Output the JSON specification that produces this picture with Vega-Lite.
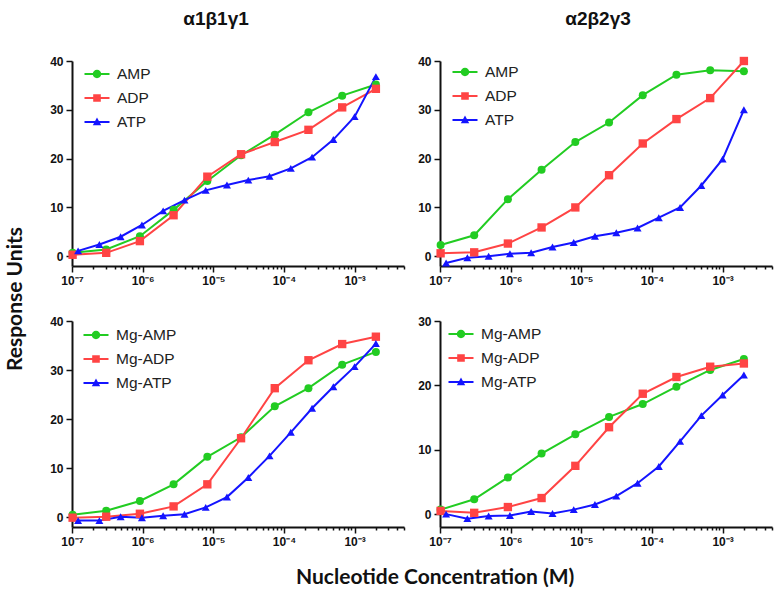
{
  "$schema": "https://vega.github.io/schema/vega-lite/v6.json",
  "background": "white",
  "padding": {"left": 4, "top": 10, "right": 4, "bottom": 4},
  "config": {
    "view": {"stroke": null},
    "axis": {"grid": false, "domainColor": "#111", "domainWidth": 2, "tickColor": "#111", "tickWidth": 1.5, "labelFont": "Liberation Sans", "labelFontWeight": "bold", "labelColor": "#111"},
    "legend": {"orient": "none", "title": null, "padding": 0, "symbolSize": 400, "rowPadding": 4, "labelOffset": 9, "labelFont": "Liberation Sans", "labelFontSize": 15.5, "labelColor": "#222", "labelFontWeight": "normal"}
  },
  "datasets": {
    "d": [
      {"p":"TL","s":"AMP","c":1.02e-7,"v":0.7},{"p":"TL","s":"AMP","c":3.05e-7,"v":1.4},{"p":"TL","s":"AMP","c":9.14e-7,"v":4.1},{"p":"TL","s":"AMP","c":2.74e-6,"v":9.5},{"p":"TL","s":"AMP","c":8.23e-6,"v":15.4},{"p":"TL","s":"AMP","c":2.47e-5,"v":20.7},{"p":"TL","s":"AMP","c":7.41e-5,"v":24.9},{"p":"TL","s":"AMP","c":2.22e-4,"v":29.5},{"p":"TL","s":"AMP","c":6.67e-4,"v":32.9},{"p":"TL","s":"AMP","c":2e-3,"v":35.2},
      {"p":"TL","s":"ADP","c":1.02e-7,"v":0.3},{"p":"TL","s":"ADP","c":3.05e-7,"v":0.7},{"p":"TL","s":"ADP","c":9.14e-7,"v":3.1},{"p":"TL","s":"ADP","c":2.74e-6,"v":8.4},{"p":"TL","s":"ADP","c":8.23e-6,"v":16.3},{"p":"TL","s":"ADP","c":2.47e-5,"v":20.9},{"p":"TL","s":"ADP","c":7.41e-5,"v":23.4},{"p":"TL","s":"ADP","c":2.22e-4,"v":25.9},{"p":"TL","s":"ADP","c":6.67e-4,"v":30.5},{"p":"TL","s":"ADP","c":2e-3,"v":34.3},
      {"p":"TL","s":"ATP","c":1.22e-7,"v":1.1},{"p":"TL","s":"ATP","c":2.44e-7,"v":2.4},{"p":"TL","s":"ATP","c":4.88e-7,"v":4.0},{"p":"TL","s":"ATP","c":9.77e-7,"v":6.4},{"p":"TL","s":"ATP","c":1.95e-6,"v":9.3},{"p":"TL","s":"ATP","c":3.91e-6,"v":11.5},{"p":"TL","s":"ATP","c":7.81e-6,"v":13.5},{"p":"TL","s":"ATP","c":1.56e-5,"v":14.6},{"p":"TL","s":"ATP","c":3.13e-5,"v":15.6},{"p":"TL","s":"ATP","c":6.25e-5,"v":16.4},{"p":"TL","s":"ATP","c":1.25e-4,"v":18.0},{"p":"TL","s":"ATP","c":2.5e-4,"v":20.3},{"p":"TL","s":"ATP","c":5e-4,"v":23.9},{"p":"TL","s":"ATP","c":1e-3,"v":28.6},{"p":"TL","s":"ATP","c":2e-3,"v":36.8},
      {"p":"TR","s":"AMP","c":1.02e-7,"v":2.3},{"p":"TR","s":"AMP","c":3.05e-7,"v":4.3},{"p":"TR","s":"AMP","c":9.14e-7,"v":11.7},{"p":"TR","s":"AMP","c":2.74e-6,"v":17.7},{"p":"TR","s":"AMP","c":8.23e-6,"v":23.4},{"p":"TR","s":"AMP","c":2.47e-5,"v":27.4},{"p":"TR","s":"AMP","c":7.41e-5,"v":33.0},{"p":"TR","s":"AMP","c":2.22e-4,"v":37.2},{"p":"TR","s":"AMP","c":6.67e-4,"v":38.1},{"p":"TR","s":"AMP","c":2e-3,"v":37.9},
      {"p":"TR","s":"ADP","c":1.02e-7,"v":0.6},{"p":"TR","s":"ADP","c":3.05e-7,"v":0.8},{"p":"TR","s":"ADP","c":9.14e-7,"v":2.6},{"p":"TR","s":"ADP","c":2.74e-6,"v":5.9},{"p":"TR","s":"ADP","c":8.23e-6,"v":10.0},{"p":"TR","s":"ADP","c":2.47e-5,"v":16.6},{"p":"TR","s":"ADP","c":7.41e-5,"v":23.1},{"p":"TR","s":"ADP","c":2.22e-4,"v":28.1},{"p":"TR","s":"ADP","c":6.67e-4,"v":32.4},{"p":"TR","s":"ADP","c":2e-3,"v":40.0},
      {"p":"TR","s":"ATP","c":1.22e-7,"v":-1.4},{"p":"TR","s":"ATP","c":2.44e-7,"v":-0.3},{"p":"TR","s":"ATP","c":4.88e-7,"v":0.0},{"p":"TR","s":"ATP","c":9.77e-7,"v":0.5},{"p":"TR","s":"ATP","c":1.95e-6,"v":0.7},{"p":"TR","s":"ATP","c":3.91e-6,"v":1.9},{"p":"TR","s":"ATP","c":7.81e-6,"v":2.8},{"p":"TR","s":"ATP","c":1.56e-5,"v":4.1},{"p":"TR","s":"ATP","c":3.13e-5,"v":4.8},{"p":"TR","s":"ATP","c":6.25e-5,"v":5.8},{"p":"TR","s":"ATP","c":1.25e-4,"v":7.9},{"p":"TR","s":"ATP","c":2.5e-4,"v":10.0},{"p":"TR","s":"ATP","c":5e-4,"v":14.5},{"p":"TR","s":"ATP","c":1e-3,"v":19.9},{"p":"TR","s":"ATP","c":2e-3,"v":30.0},
      {"p":"BL","s":"Mg-AMP","c":1.02e-7,"v":0.5},{"p":"BL","s":"Mg-AMP","c":3.05e-7,"v":1.3},{"p":"BL","s":"Mg-AMP","c":9.14e-7,"v":3.3},{"p":"BL","s":"Mg-AMP","c":2.74e-6,"v":6.7},{"p":"BL","s":"Mg-AMP","c":8.23e-6,"v":12.3},{"p":"BL","s":"Mg-AMP","c":2.47e-5,"v":16.3},{"p":"BL","s":"Mg-AMP","c":7.41e-5,"v":22.6},{"p":"BL","s":"Mg-AMP","c":2.22e-4,"v":26.3},{"p":"BL","s":"Mg-AMP","c":6.67e-4,"v":31.1},{"p":"BL","s":"Mg-AMP","c":2e-3,"v":33.7},
      {"p":"BL","s":"Mg-ADP","c":1.02e-7,"v":-0.1},{"p":"BL","s":"Mg-ADP","c":3.05e-7,"v":0.1},{"p":"BL","s":"Mg-ADP","c":9.14e-7,"v":0.7},{"p":"BL","s":"Mg-ADP","c":2.74e-6,"v":2.2},{"p":"BL","s":"Mg-ADP","c":8.23e-6,"v":6.7},{"p":"BL","s":"Mg-ADP","c":2.47e-5,"v":16.1},{"p":"BL","s":"Mg-ADP","c":7.41e-5,"v":26.3},{"p":"BL","s":"Mg-ADP","c":2.22e-4,"v":32.0},{"p":"BL","s":"Mg-ADP","c":6.67e-4,"v":35.3},{"p":"BL","s":"Mg-ADP","c":2e-3,"v":36.8},
      {"p":"BL","s":"Mg-ATP","c":1.22e-7,"v":-0.7},{"p":"BL","s":"Mg-ATP","c":2.44e-7,"v":-0.7},{"p":"BL","s":"Mg-ATP","c":4.88e-7,"v":0.1},{"p":"BL","s":"Mg-ATP","c":9.77e-7,"v":-0.1},{"p":"BL","s":"Mg-ATP","c":1.95e-6,"v":0.3},{"p":"BL","s":"Mg-ATP","c":3.91e-6,"v":0.6},{"p":"BL","s":"Mg-ATP","c":7.81e-6,"v":2.0},{"p":"BL","s":"Mg-ATP","c":1.56e-5,"v":4.1},{"p":"BL","s":"Mg-ATP","c":3.13e-5,"v":8.1},{"p":"BL","s":"Mg-ATP","c":6.25e-5,"v":12.5},{"p":"BL","s":"Mg-ATP","c":1.25e-4,"v":17.3},{"p":"BL","s":"Mg-ATP","c":2.5e-4,"v":22.2},{"p":"BL","s":"Mg-ATP","c":5e-4,"v":26.6},{"p":"BL","s":"Mg-ATP","c":1e-3,"v":30.7},{"p":"BL","s":"Mg-ATP","c":2e-3,"v":35.4},
      {"p":"BR","s":"Mg-AMP","c":1.02e-7,"v":0.7},{"p":"BR","s":"Mg-AMP","c":3.05e-7,"v":2.3},{"p":"BR","s":"Mg-AMP","c":9.14e-7,"v":5.7},{"p":"BR","s":"Mg-AMP","c":2.74e-6,"v":9.4},{"p":"BR","s":"Mg-AMP","c":8.23e-6,"v":12.4},{"p":"BR","s":"Mg-AMP","c":2.47e-5,"v":15.1},{"p":"BR","s":"Mg-AMP","c":7.41e-5,"v":17.1},{"p":"BR","s":"Mg-AMP","c":2.22e-4,"v":19.8},{"p":"BR","s":"Mg-AMP","c":6.67e-4,"v":22.4},{"p":"BR","s":"Mg-AMP","c":2e-3,"v":24.1},
      {"p":"BR","s":"Mg-ADP","c":1.02e-7,"v":0.5},{"p":"BR","s":"Mg-ADP","c":3.05e-7,"v":0.2},{"p":"BR","s":"Mg-ADP","c":9.14e-7,"v":1.1},{"p":"BR","s":"Mg-ADP","c":2.74e-6,"v":2.5},{"p":"BR","s":"Mg-ADP","c":8.23e-6,"v":7.5},{"p":"BR","s":"Mg-ADP","c":2.47e-5,"v":13.5},{"p":"BR","s":"Mg-ADP","c":7.41e-5,"v":18.7},{"p":"BR","s":"Mg-ADP","c":2.22e-4,"v":21.3},{"p":"BR","s":"Mg-ADP","c":6.67e-4,"v":22.9},{"p":"BR","s":"Mg-ADP","c":2e-3,"v":23.4},
      {"p":"BR","s":"Mg-ATP","c":1.22e-7,"v":0.0},{"p":"BR","s":"Mg-ATP","c":2.44e-7,"v":-0.7},{"p":"BR","s":"Mg-ATP","c":4.88e-7,"v":-0.3},{"p":"BR","s":"Mg-ATP","c":9.77e-7,"v":-0.2},{"p":"BR","s":"Mg-ATP","c":1.95e-6,"v":0.4},{"p":"BR","s":"Mg-ATP","c":3.91e-6,"v":0.1},{"p":"BR","s":"Mg-ATP","c":7.81e-6,"v":0.7},{"p":"BR","s":"Mg-ATP","c":1.56e-5,"v":1.5},{"p":"BR","s":"Mg-ATP","c":3.13e-5,"v":2.8},{"p":"BR","s":"Mg-ATP","c":6.25e-5,"v":4.8},{"p":"BR","s":"Mg-ATP","c":1.25e-4,"v":7.4},{"p":"BR","s":"Mg-ATP","c":2.5e-4,"v":11.3},{"p":"BR","s":"Mg-ATP","c":5e-4,"v":15.3},{"p":"BR","s":"Mg-ATP","c":1e-3,"v":18.5},{"p":"BR","s":"Mg-ATP","c":2e-3,"v":21.6}
    ]
  },
  "title": {"text": "Response Units", "orient": "left", "anchor": "middle", "font": "Lato", "fontSize": 21, "fontWeight": "bold", "color": "#111", "offset": 24},
  "vconcat": [
    {
      "title": {"text": "Nucleotide Concentration (M)", "orient": "bottom", "anchor": "middle", "font": "Lato", "fontSize": 21, "fontWeight": "bold", "color": "#111", "offset": 20, "dx": 24},
      "resolve": {"scale": {"color": "independent", "fill": "independent", "shape": "independent", "x": "independent", "y": "independent"}, "legend": {"color": "independent", "fill": "independent", "shape": "independent"}},
      "spacing": 29,
      "vconcat": [
        {
          "resolve": {"scale": {"color": "independent", "fill": "independent", "shape": "independent", "x": "independent", "y": "independent"}, "legend": {"color": "independent", "fill": "independent", "shape": "independent"}},
          "spacing": 12,
          "hconcat": [
            {
              "width": 332, "height": 205,
              "title": {"text": "α1β1γ1", "font": "Liberation Sans", "fontSize": 19, "fontWeight": "bold", "color": "#111", "offset": 26, "dx": -22},
              "data": {"name": "d"},
              "transform": [{"filter": "datum.p === 'TL'"}],
              "resolve": {"axis": {"x": "independent"}},
              "layer": [
                {"mark": {"type": "line", "strokeWidth": 2},
                 "encoding": {
                   "x": {"field": "c", "type": "quantitative", "scale": {"type": "log", "domain": [1e-7, 5e-3], "nice": false}, "axis": {"orient": "bottom", "title": null, "values": [1e-7, 1e-6, 1e-5, 1e-4, 1e-3], "tickSize": 6, "labelFontSize": 12, "labelPadding": 3, "labelFlush": false, "labelExpr": "datum.value < 3e-7 ? '10⁻⁷' : datum.value < 3e-6 ? '10⁻⁶' : datum.value < 3e-5 ? '10⁻⁵' : datum.value < 3e-4 ? '10⁻⁴' : '10⁻³'"}},
                   "y": {"field": "v", "type": "quantitative", "scale": {"domain": [-2, 40], "nice": false, "zero": false}, "axis": {"title": null, "values": [0, 10, 20, 30, 40], "tickSize": 6, "labelFontSize": 12, "labelPadding": 3}},
                   "color": {"field": "s", "type": "nominal", "scale": {"range": ["#ff4444", "#22cc22", "#1414ff"]}, "legend": null}}},
                {"mark": {"type": "point", "shape": "circle", "filled": true, "opacity": 1, "size": 64},
                 "transform": [{"filter": "datum.s === 'AMP'"}],
                 "encoding": {
                   "x": {"field": "c", "type": "quantitative", "axis": {"orient": "bottom", "title": null, "labels": false, "domain": false, "tickSize": 3, "values": [2e-7,3e-7,4e-7,5e-7,6e-7,7e-7,8e-7,9e-7,2e-6,3e-6,4e-6,5e-6,6e-6,7e-6,8e-6,9e-6,2e-5,3e-5,4e-5,5e-5,6e-5,7e-5,8e-5,9e-5,2e-4,3e-4,4e-4,5e-4,6e-4,7e-4,8e-4,9e-4,2e-3,3e-3,4e-3,5e-3]}},
                   "y": {"field": "v", "type": "quantitative"},
                   "color": {"field": "s", "type": "nominal", "legend": null}}},
                {"mark": {"type": "point", "shape": "square", "filled": true, "opacity": 1, "size": 70},
                 "transform": [{"filter": "datum.s === 'ADP'"}],
                 "encoding": {
                   "x": {"field": "c", "type": "quantitative", "axis": null},
                   "y": {"field": "v", "type": "quantitative"},
                   "color": {"field": "s", "type": "nominal", "legend": null}}},
                {"mark": {"type": "point", "shape": "triangle-up", "filled": true, "opacity": 1, "size": 64},
                 "transform": [{"filter": "datum.s === 'ATP'"}],
                 "encoding": {
                   "x": {"field": "c", "type": "quantitative", "axis": null},
                   "y": {"field": "v", "type": "quantitative"},
                   "color": {"field": "s", "type": "nominal", "legend": null}}},
                {"mark": {"type": "point", "filled": true, "opacity": 1},
                 "transform": [{"filter": "false"}],
                 "encoding": {
                   "x": {"field": "c", "type": "quantitative", "axis": null},
                   "y": {"field": "v", "type": "quantitative"},
                   "fill": {"field": "s", "type": "nominal", "scale": {"domain": ["AMP", "ADP", "ATP"], "range": ["#22cc22", "#ff4444", "#1414ff"]}, "legend": {"legendX": 14, "legendY": 2}},
                   "shape": {"field": "s", "type": "nominal", "scale": {"domain": ["AMP", "ADP", "ATP"], "range": ["M-1.25,-0.1H1.25V0.1H-1.25ZM-0.42,0A0.42,0.42 0 1,1 0.42,0A0.42,0.42 0 1,1 -0.42,0Z", "M-1.25,-0.1H1.25V0.1H-1.25ZM-0.38,-0.38H0.38V0.38H-0.38Z", "M-1.25,-0.1H1.25V0.1H-1.25ZM0,-0.45L0.42,0.32L-0.42,0.32Z"]}}}}
              ]
            },
            {
              "width": 332, "height": 205,
              "title": {"text": "α2β2γ3", "font": "Liberation Sans", "fontSize": 19, "fontWeight": "bold", "color": "#111", "offset": 26, "dx": -8},
              "data": {"name": "d"},
              "transform": [{"filter": "datum.p === 'TR'"}],
              "resolve": {"axis": {"x": "independent"}},
              "layer": [
                {"mark": {"type": "line", "strokeWidth": 2},
                 "encoding": {
                   "x": {"field": "c", "type": "quantitative", "scale": {"type": "log", "domain": [1e-7, 5e-3], "nice": false}, "axis": {"orient": "bottom", "title": null, "values": [1e-7, 1e-6, 1e-5, 1e-4, 1e-3], "tickSize": 6, "labelFontSize": 12, "labelPadding": 3, "labelFlush": false, "labelExpr": "datum.value < 3e-7 ? '10⁻⁷' : datum.value < 3e-6 ? '10⁻⁶' : datum.value < 3e-5 ? '10⁻⁵' : datum.value < 3e-4 ? '10⁻⁴' : '10⁻³'"}},
                   "y": {"field": "v", "type": "quantitative", "scale": {"domain": [-2, 40], "nice": false, "zero": false}, "axis": {"title": null, "values": [0, 10, 20, 30, 40], "tickSize": 6, "labelFontSize": 12, "labelPadding": 3}},
                   "color": {"field": "s", "type": "nominal", "scale": {"range": ["#ff4444", "#22cc22", "#1414ff"]}, "legend": null}}},
                {"mark": {"type": "point", "shape": "circle", "filled": true, "opacity": 1, "size": 64},
                 "transform": [{"filter": "datum.s === 'AMP'"}],
                 "encoding": {
                   "x": {"field": "c", "type": "quantitative", "axis": {"orient": "bottom", "title": null, "labels": false, "domain": false, "tickSize": 3, "values": [2e-7,3e-7,4e-7,5e-7,6e-7,7e-7,8e-7,9e-7,2e-6,3e-6,4e-6,5e-6,6e-6,7e-6,8e-6,9e-6,2e-5,3e-5,4e-5,5e-5,6e-5,7e-5,8e-5,9e-5,2e-4,3e-4,4e-4,5e-4,6e-4,7e-4,8e-4,9e-4,2e-3,3e-3,4e-3,5e-3]}},
                   "y": {"field": "v", "type": "quantitative"},
                   "color": {"field": "s", "type": "nominal", "legend": null}}},
                {"mark": {"type": "point", "shape": "square", "filled": true, "opacity": 1, "size": 70},
                 "transform": [{"filter": "datum.s === 'ADP'"}],
                 "encoding": {
                   "x": {"field": "c", "type": "quantitative", "axis": null},
                   "y": {"field": "v", "type": "quantitative"},
                   "color": {"field": "s", "type": "nominal", "legend": null}}},
                {"mark": {"type": "point", "shape": "triangle-up", "filled": true, "opacity": 1, "size": 64},
                 "transform": [{"filter": "datum.s === 'ATP'"}],
                 "encoding": {
                   "x": {"field": "c", "type": "quantitative", "axis": null},
                   "y": {"field": "v", "type": "quantitative"},
                   "color": {"field": "s", "type": "nominal", "legend": null}}},
                {"mark": {"type": "point", "filled": true, "opacity": 1},
                 "transform": [{"filter": "false"}],
                 "encoding": {
                   "x": {"field": "c", "type": "quantitative", "axis": null},
                   "y": {"field": "v", "type": "quantitative"},
                   "fill": {"field": "s", "type": "nominal", "scale": {"domain": ["AMP", "ADP", "ATP"], "range": ["#22cc22", "#ff4444", "#1414ff"]}, "legend": {"legendX": 14, "legendY": 0}},
                   "shape": {"field": "s", "type": "nominal", "scale": {"domain": ["AMP", "ADP", "ATP"], "range": ["M-1.25,-0.1H1.25V0.1H-1.25ZM-0.42,0A0.42,0.42 0 1,1 0.42,0A0.42,0.42 0 1,1 -0.42,0Z", "M-1.25,-0.1H1.25V0.1H-1.25ZM-0.38,-0.38H0.38V0.38H-0.38Z", "M-1.25,-0.1H1.25V0.1H-1.25ZM0,-0.45L0.42,0.32L-0.42,0.32Z"]}}}}
              ]
            }
          ]
        },
        {
          "resolve": {"scale": {"color": "independent", "fill": "independent", "shape": "independent", "x": "independent", "y": "independent"}, "legend": {"color": "independent", "fill": "independent", "shape": "independent"}},
          "spacing": 12,
          "hconcat": [
            {
              "width": 332, "height": 206,
              "data": {"name": "d"},
              "transform": [{"filter": "datum.p === 'BL'"}],
              "resolve": {"axis": {"x": "independent"}},
              "layer": [
                {"mark": {"type": "line", "strokeWidth": 2},
                 "encoding": {
                   "x": {"field": "c", "type": "quantitative", "scale": {"type": "log", "domain": [1e-7, 5e-3], "nice": false}, "axis": {"orient": "bottom", "title": null, "values": [1e-7, 1e-6, 1e-5, 1e-4, 1e-3], "tickSize": 6, "labelFontSize": 12, "labelPadding": 3, "labelFlush": false, "labelExpr": "datum.value < 3e-7 ? '10⁻⁷' : datum.value < 3e-6 ? '10⁻⁶' : datum.value < 3e-5 ? '10⁻⁵' : datum.value < 3e-4 ? '10⁻⁴' : '10⁻³'"}},
                   "y": {"field": "v", "type": "quantitative", "scale": {"domain": [-2, 40], "nice": false, "zero": false}, "axis": {"title": null, "values": [0, 10, 20, 30, 40], "tickSize": 6, "labelFontSize": 12, "labelPadding": 3}},
                   "color": {"field": "s", "type": "nominal", "scale": {"range": ["#ff4444", "#22cc22", "#1414ff"]}, "legend": null}}},
                {"mark": {"type": "point", "shape": "circle", "filled": true, "opacity": 1, "size": 64},
                 "transform": [{"filter": "datum.s === 'Mg-AMP'"}],
                 "encoding": {
                   "x": {"field": "c", "type": "quantitative", "axis": {"orient": "bottom", "title": null, "labels": false, "domain": false, "tickSize": 3, "values": [2e-7,3e-7,4e-7,5e-7,6e-7,7e-7,8e-7,9e-7,2e-6,3e-6,4e-6,5e-6,6e-6,7e-6,8e-6,9e-6,2e-5,3e-5,4e-5,5e-5,6e-5,7e-5,8e-5,9e-5,2e-4,3e-4,4e-4,5e-4,6e-4,7e-4,8e-4,9e-4,2e-3,3e-3,4e-3,5e-3]}},
                   "y": {"field": "v", "type": "quantitative"},
                   "color": {"field": "s", "type": "nominal", "legend": null}}},
                {"mark": {"type": "point", "shape": "square", "filled": true, "opacity": 1, "size": 70},
                 "transform": [{"filter": "datum.s === 'Mg-ADP'"}],
                 "encoding": {
                   "x": {"field": "c", "type": "quantitative", "axis": null},
                   "y": {"field": "v", "type": "quantitative"},
                   "color": {"field": "s", "type": "nominal", "legend": null}}},
                {"mark": {"type": "point", "shape": "triangle-up", "filled": true, "opacity": 1, "size": 64},
                 "transform": [{"filter": "datum.s === 'Mg-ATP'"}],
                 "encoding": {
                   "x": {"field": "c", "type": "quantitative", "axis": null},
                   "y": {"field": "v", "type": "quantitative"},
                   "color": {"field": "s", "type": "nominal", "legend": null}}},
                {"mark": {"type": "point", "filled": true, "opacity": 1},
                 "transform": [{"filter": "false"}],
                 "encoding": {
                   "x": {"field": "c", "type": "quantitative", "axis": null},
                   "y": {"field": "v", "type": "quantitative"},
                   "fill": {"field": "s", "type": "nominal", "scale": {"domain": ["Mg-AMP", "Mg-ADP", "Mg-ATP"], "range": ["#22cc22", "#ff4444", "#1414ff"]}, "legend": {"legendX": 13, "legendY": 3}},
                   "shape": {"field": "s", "type": "nominal", "scale": {"domain": ["Mg-AMP", "Mg-ADP", "Mg-ATP"], "range": ["M-1.25,-0.1H1.25V0.1H-1.25ZM-0.42,0A0.42,0.42 0 1,1 0.42,0A0.42,0.42 0 1,1 -0.42,0Z", "M-1.25,-0.1H1.25V0.1H-1.25ZM-0.38,-0.38H0.38V0.38H-0.38Z", "M-1.25,-0.1H1.25V0.1H-1.25ZM0,-0.45L0.42,0.32L-0.42,0.32Z"]}}}}
              ]
            },
            {
              "width": 332, "height": 206,
              "data": {"name": "d"},
              "transform": [{"filter": "datum.p === 'BR'"}],
              "resolve": {"axis": {"x": "independent"}},
              "layer": [
                {"mark": {"type": "line", "strokeWidth": 2},
                 "encoding": {
                   "x": {"field": "c", "type": "quantitative", "scale": {"type": "log", "domain": [1e-7, 5e-3], "nice": false}, "axis": {"orient": "bottom", "title": null, "values": [1e-7, 1e-6, 1e-5, 1e-4, 1e-3], "tickSize": 6, "labelFontSize": 12, "labelPadding": 3, "labelFlush": false, "labelExpr": "datum.value < 3e-7 ? '10⁻⁷' : datum.value < 3e-6 ? '10⁻⁶' : datum.value < 3e-5 ? '10⁻⁵' : datum.value < 3e-4 ? '10⁻⁴' : '10⁻³'"}},
                   "y": {"field": "v", "type": "quantitative", "scale": {"domain": [-2, 30], "nice": false, "zero": false}, "axis": {"title": null, "values": [0, 10, 20, 30], "tickSize": 6, "labelFontSize": 12, "labelPadding": 3}},
                   "color": {"field": "s", "type": "nominal", "scale": {"range": ["#ff4444", "#22cc22", "#1414ff"]}, "legend": null}}},
                {"mark": {"type": "point", "shape": "circle", "filled": true, "opacity": 1, "size": 64},
                 "transform": [{"filter": "datum.s === 'Mg-AMP'"}],
                 "encoding": {
                   "x": {"field": "c", "type": "quantitative", "axis": {"orient": "bottom", "title": null, "labels": false, "domain": false, "tickSize": 3, "values": [2e-7,3e-7,4e-7,5e-7,6e-7,7e-7,8e-7,9e-7,2e-6,3e-6,4e-6,5e-6,6e-6,7e-6,8e-6,9e-6,2e-5,3e-5,4e-5,5e-5,6e-5,7e-5,8e-5,9e-5,2e-4,3e-4,4e-4,5e-4,6e-4,7e-4,8e-4,9e-4,2e-3,3e-3,4e-3,5e-3]}},
                   "y": {"field": "v", "type": "quantitative"},
                   "color": {"field": "s", "type": "nominal", "legend": null}}},
                {"mark": {"type": "point", "shape": "square", "filled": true, "opacity": 1, "size": 70},
                 "transform": [{"filter": "datum.s === 'Mg-ADP'"}],
                 "encoding": {
                   "x": {"field": "c", "type": "quantitative", "axis": null},
                   "y": {"field": "v", "type": "quantitative"},
                   "color": {"field": "s", "type": "nominal", "legend": null}}},
                {"mark": {"type": "point", "shape": "triangle-up", "filled": true, "opacity": 1, "size": 64},
                 "transform": [{"filter": "datum.s === 'Mg-ATP'"}],
                 "encoding": {
                   "x": {"field": "c", "type": "quantitative", "axis": null},
                   "y": {"field": "v", "type": "quantitative"},
                   "color": {"field": "s", "type": "nominal", "legend": null}}},
                {"mark": {"type": "point", "filled": true, "opacity": 1},
                 "transform": [{"filter": "false"}],
                 "encoding": {
                   "x": {"field": "c", "type": "quantitative", "axis": null},
                   "y": {"field": "v", "type": "quantitative"},
                   "fill": {"field": "s", "type": "nominal", "scale": {"domain": ["Mg-AMP", "Mg-ADP", "Mg-ATP"], "range": ["#22cc22", "#ff4444", "#1414ff"]}, "legend": {"legendX": 10, "legendY": 2}},
                   "shape": {"field": "s", "type": "nominal", "scale": {"domain": ["Mg-AMP", "Mg-ADP", "Mg-ATP"], "range": ["M-1.25,-0.1H1.25V0.1H-1.25ZM-0.42,0A0.42,0.42 0 1,1 0.42,0A0.42,0.42 0 1,1 -0.42,0Z", "M-1.25,-0.1H1.25V0.1H-1.25ZM-0.38,-0.38H0.38V0.38H-0.38Z", "M-1.25,-0.1H1.25V0.1H-1.25ZM0,-0.45L0.42,0.32L-0.42,0.32Z"]}}}}
              ]
            }
          ]
        }
      ]
    }
  ]
}
